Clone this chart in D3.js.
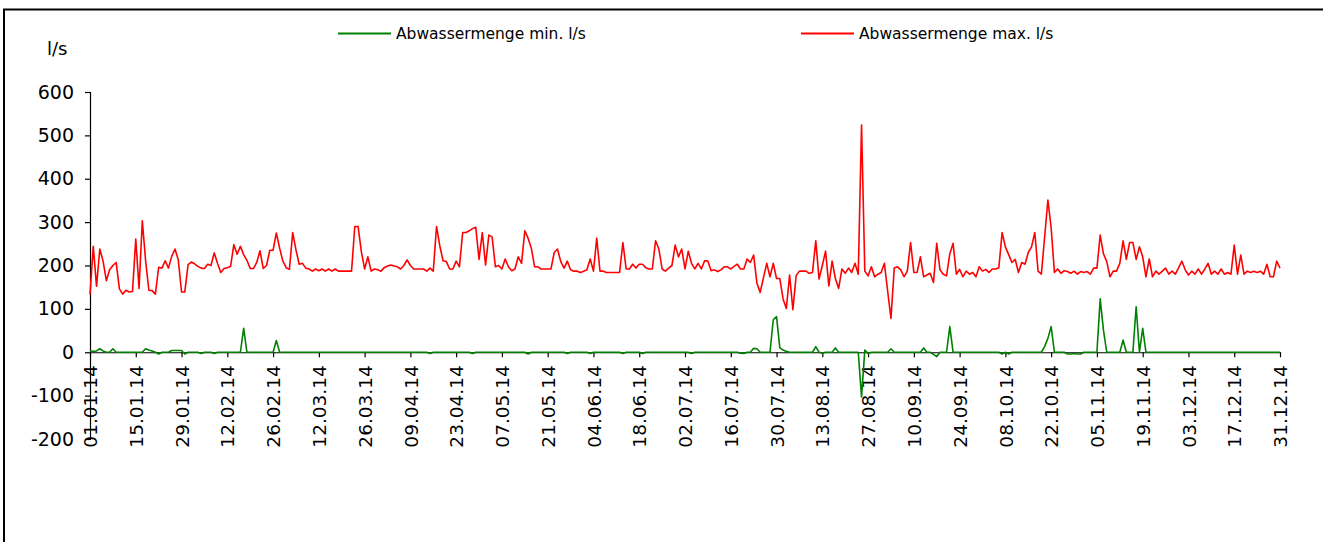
<!DOCTYPE html>
<html>
<head>
<meta charset="utf-8">
<script src="https://cdn.jsdelivr.net/npm/d3@7"></script>
<style>
  body { margin: 0; background: #fff; }
  svg { display: block; }
  text { font-family: "DejaVu Sans", sans-serif; fill: #000; }
</style>
</head>
<body>
<div id="chart"></div>
<script>
// ---------- data (daily values 2014)

const seriesNames = ["Abwassermenge min. l/s", "Abwassermenge max. l/s"]
const seriesColors = ["#008000", "#ff0000"]
const yUnit = "l/s"
const yTicks = [-200, -100, 0, 100, 200, 300, 400, 500, 600]
const tickLabels = ["01.01.14", "15.01.14", "29.01.14", "12.02.14", "26.02.14", "12.03.14", "26.03.14",
    "09.04.14", "23.04.14", "07.05.14", "21.05.14", "04.06.14", "18.06.14", "02.07.14", "16.07.14",
    "30.07.14", "13.08.14", "27.08.14", "10.09.14", "24.09.14", "08.10.14", "22.10.14", "05.11.14",
    "19.11.14", "03.12.14", "17.12.14", "31.12.14"]

const maxFlow = [
    133, 244, 152, 238, 210, 165, 190, 200, 207, 146,
    134, 143, 139, 140, 261, 147, 303, 212, 143, 142,
    134, 196, 194, 211, 194, 221, 238, 213, 139, 139,
    202, 208, 204, 198, 194, 193, 203, 200, 229, 205,
    184, 193, 195, 198, 248, 226, 244, 225, 212, 193,
    193, 207, 234, 193, 200, 235, 235, 275, 240, 210,
    195, 191, 276, 236, 203, 205, 194, 192, 187, 192,
    188, 192, 187, 192, 187, 192, 187, 187, 187, 187,
    187, 290, 290, 232, 192, 220, 187, 192, 190, 187,
    195, 199, 201, 199, 197, 192, 200, 213, 200, 192,
    192, 192, 192, 187, 194, 187, 290, 245, 211, 209,
    192, 192, 210, 197, 276, 276, 280, 285, 288, 214,
    276, 201, 270, 266, 197, 200, 192, 215, 197, 188,
    192, 220, 205, 280, 263, 240, 197, 197, 192, 192,
    192, 192, 230, 238, 209, 194, 210, 190, 187, 187,
    184, 187, 190, 215, 187, 263, 187, 187, 184, 184,
    184, 184, 184, 253, 192, 192, 203, 194, 203, 203,
    195, 192, 192, 257, 238, 192, 187, 194, 200, 247,
    220, 238, 192, 233, 205, 192, 205, 192, 211, 210,
    188, 190, 186, 190, 197, 197, 192, 198, 203, 192,
    192, 215, 207, 224, 159, 138, 172, 205, 174, 205,
    170, 170, 123, 101, 178, 98, 177, 187, 187, 187,
    182, 184, 257, 169, 200, 233, 153, 210, 170, 147,
    192, 182, 194, 184, 205, 180, 524, 187, 176, 197,
    174, 180, 184, 205, 140, 78, 194, 197, 190, 174,
    187, 253, 184, 184, 220, 174, 178, 182, 161, 251,
    190, 180, 176, 227, 251, 180, 191, 174, 187, 180,
    184, 174, 197, 187, 191, 184, 192, 192, 195, 276,
    243, 225, 207, 214, 184, 207, 203, 230, 243, 276,
    187, 180, 265, 351, 287, 184, 192, 182, 188, 186,
    182, 187, 180, 186, 184, 186, 180, 194, 194, 270,
    227, 209, 174, 187, 187, 205, 257, 214, 253, 253,
    214, 243, 220, 174, 215, 174, 187, 180, 187, 194,
    180, 187, 180, 195, 210, 190, 178, 187, 180, 192,
    180, 192, 205, 180, 187, 180, 192, 180, 184, 180,
    247, 180, 224, 180, 187, 184, 187, 184, 187, 180,
    203, 174, 174, 210, 194
]

const minFlow = [
    2, 2, 3, 8, 3, 0, 0, 8, 0, 0,
    0, 0, 0, 0, 0, 0, 0, 8, 5, 3,
    0, -4, 0, 0, 0, 4, 4, 4, 4, -4,
    0, 0, 0, 0, -3, 0, 0, 0, -3, 0,
    0, 0, 0, 0, 0, 0, 0, 55, 0, 0,
    0, 0, 0, 0, 0, 0, 0, 27, 0, 0,
    0, 0, 0, 0, 0, 0, 0, 0, 0, 0,
    0, 0, 0, 0, 0, 0, 0, 0, 0, 0,
    0, 0, 0, 0, 0, 0, 0, 0, 0, 0,
    0, 0, 0, 0, 0, 0, 0, 0, 0, 0,
    0, 0, 0, 0, -3, 0, 0, 0, 0, 0,
    0, 0, 0, 0, 0, 0, 0, -3, 0, 0,
    0, 0, 0, 0, 0, 0, 0, 0, 0, 0,
    0, 0, 0, 0, -4, 0, 0, 0, 0, 0,
    0, 0, 0, 0, 0, 0, -3, 0, 0, 0,
    0, 0, 0, -3, 0, 0, 0, 0, 0, 0,
    0, 0, 0, -3, 0, 0, 0, 0, 0, -3,
    0, 0, 0, 0, 0, 0, 0, 0, 0, 0,
    0, 0, 0, 0, -3, 0, 0, 0, 0, 0,
    0, 0, 0, 0, 0, 0, 0, 0, 0, -2,
    -3, 0, 0, 9, 8, 0, 0, 0, 0, 75,
    82, 10, 5, 2, 0, 0, 0, 0, 0, 0,
    0, 0, 13, 0, -2, 0, 0, 0, 10, 0,
    0, 0, 0, 0, 0, 0, -103, 5, -3, 0,
    0, 0, 0, 0, 0, 8, 0, 0, 0, 0,
    0, 0, 0, 0, 0, 10, 0, 0, -5, -10,
    0, 0, 0, 59, 0, 0, 0, 0, 0, 0,
    0, 0, 0, 0, 0, 0, 0, 0, 0, -4,
    0, -4, 0, 0, 0, 0, 0, 0, 0, 0,
    0, 0, 13, 32, 59, 0, 0, 0, 0, -4,
    -4, -3, -4, -4, 0, 0, 0, 0, 0, 123,
    51, 0, 0, 0, 0, 0, 28, 0, 0, 0,
    105, 0, 55, 0, 0, 0, 0, 0, 0, 0,
    0, 0, 0, 0, 0, 0, 0, 0, 0, 0,
    0, 0, 0, 0, 0, 0, 0, 0, 0, 0,
    0, 0, 0, 0, 0, 0, 0, 0, 0, 0,
    0, 0, 0, 0, 0
]

// ---------- dimensions

const dimensions = {
    width: 1323,
    height: 542,
    margin: { top: 92, right: 43, bottom: 103, left: 90 }
}
dimensions.boundedWidth = dimensions.width - dimensions.margin.left - dimensions.margin.right
dimensions.boundedHeight = dimensions.height - dimensions.margin.top - dimensions.margin.bottom

const parseLabel = d3.utcParse("%d.%m.%y")
const days = d3.utcDay.range(Date.UTC(2014, 0, 1), Date.UTC(2015, 0, 1))

// ---------- wrapper

const wrapper = d3.select("#chart")
    .append("svg")
    .attr("width", dimensions.width)
    .attr("height", dimensions.height)

// outer frame (right and bottom edges lie outside the picture)
wrapper.append("rect")
    .attr("x", 4)
    .attr("y", 9.5)
    .attr("width", 1400)
    .attr("height", 700)
    .attr("fill", "none")
    .attr("stroke", "#000")
    .attr("stroke-width", 2)

const bounds = wrapper.append("g")
    .attr("transform", `translate(${dimensions.margin.left},${dimensions.margin.top})`)

// ---------- scales

const xScale = d3.scaleUtc()
    .domain([days[0], days[days.length - 1]])
    .range([0, dimensions.boundedWidth])

const yScale = d3.scaleLinear()
    .domain([d3.min(yTicks), d3.max(yTicks)])
    .range([dimensions.boundedHeight, 0])

// ---------- axes

const yAxisGenerator = d3.axisLeft(yScale)
    .tickValues(yTicks)
    .tickSize(5)
    .tickPadding(11)
    .tickFormat(d3.format("d"))

const yAxis = bounds.append("g")
    .call(yAxisGenerator)
yAxis.selectAll("text")
    .style("font-size", "19px")
    .style("font-family", "'DejaVu Sans', sans-serif")
    .text(d => d < 0 ? "-" + Math.abs(d) : d)

const xAxisGenerator = d3.axisBottom(xScale)
    .tickValues(tickLabels.map(parseLabel))
    .tickSize(5)
    .tickSizeOuter(0)
    .tickFormat(d3.utcFormat("%d.%m.%y"))

const xAxis = bounds.append("g")
    .attr("transform", `translate(0,${yScale(0)})`)
    .call(xAxisGenerator)
xAxis.selectAll("text")
    .attr("transform", "rotate(-90)")
    .attr("text-anchor", "end")
    .attr("x", -13)
    .attr("y", 0)
    .attr("dy", "0.36em")
    .style("font-size", "18.5px")
    .style("font-family", "'DejaVu Sans', sans-serif")

bounds.selectAll(".domain, .tick line")
    .attr("stroke", "#000")
    .attr("stroke-width", 1.2)

wrapper.append("text")
    .attr("x", 47)
    .attr("y", 55)
    .style("font-size", "18px")
    .text(yUnit)

// ---------- lines

const lineGenerator = d3.line()
    .x((d, i) => xScale(days[i]))
    .y(d => yScale(d))

bounds.selectAll(".series")
    .data([minFlow, maxFlow])
    .join("path")
    .attr("class", "series")
    .attr("d", d => lineGenerator(d))
    .attr("fill", "none")
    .attr("stroke", (d, i) => seriesColors[i])
    .attr("stroke-width", 1.6)
    .attr("stroke-linejoin", "round")

// ---------- legend

const legendX = [338, 801]
const legend = wrapper.selectAll(".legend")
    .data(seriesNames)
    .join("g")
    .attr("class", "legend")
    .attr("transform", (d, i) => `translate(${legendX[i]},33.5)`)

legend.append("line")
    .attr("x1", 0)
    .attr("x2", 53)
    .attr("stroke", (d, i) => seriesColors[i])
    .attr("stroke-width", 2)

legend.append("text")
    .attr("x", 58)
    .attr("dy", "0.36em")
    .style("font-size", "15.5px")
    .text(d => d)
</script>
</body>
</html>
